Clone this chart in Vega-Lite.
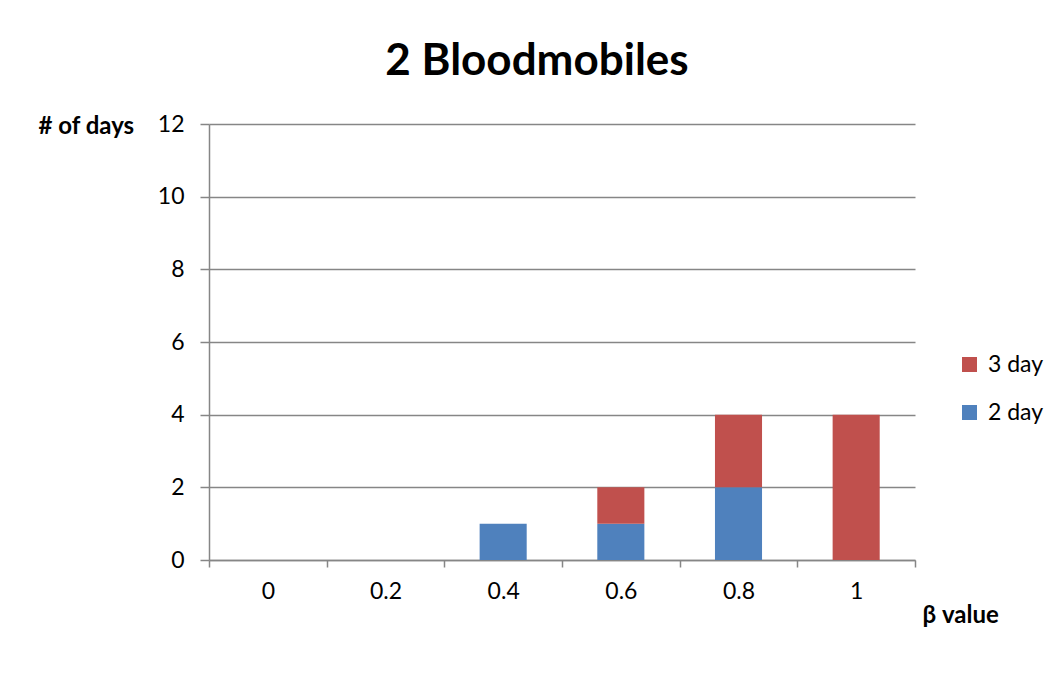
{
  "$schema": "https://vega.github.io/schema/vega-lite/v6.json",
  "width": 706,
  "height": 436,
  "autosize": "none",
  "padding": {"left": 209, "top": 124, "right": 140, "bottom": 119},
  "background": "white",
  "title": {
    "text": "2 Bloodmobiles",
    "font": "Lato",
    "fontSize": 44,
    "fontWeight": "bold",
    "color": "#000000",
    "anchor": "middle",
    "baseline": "alphabetic",
    "dx": -25,
    "offset": -6
  },
  "data": {
    "values": [
      {"beta": "0", "series": "2 day", "days": 0},
      {"beta": "0", "series": "3 day", "days": 0},
      {"beta": "0.2", "series": "2 day", "days": 0},
      {"beta": "0.2", "series": "3 day", "days": 0},
      {"beta": "0.4", "series": "2 day", "days": 1},
      {"beta": "0.4", "series": "3 day", "days": 0},
      {"beta": "0.6", "series": "2 day", "days": 1},
      {"beta": "0.6", "series": "3 day", "days": 1},
      {"beta": "0.8", "series": "2 day", "days": 2},
      {"beta": "0.8", "series": "3 day", "days": 2},
      {"beta": "1", "series": "2 day", "days": 0},
      {"beta": "1", "series": "3 day", "days": 4}
    ]
  },
  "mark": {"type": "bar", "width": {"band": 0.4}},
  "encoding": {
    "x": {
      "field": "beta",
      "type": "nominal",
      "sort": null,
      "scale": {"paddingInner": 0, "paddingOuter": 0},
      "axis": {
        "title": "β value",
        "titleFont": "Lato",
        "titleFontSize": 24,
        "titleFontWeight": "bold",
        "titleColor": "#000000",
        "titleAngle": 0,
        "titleAlign": "left",
        "titleBaseline": "middle",
        "titleAnchor": null,
        "titleX": 713,
        "titleY": 55,
        "labelAngle": 0,
        "labelFont": "Lato",
        "labelFontSize": 23,
        "labelColor": "#000000",
        "labelPadding": 13,
        "tickBand": "extent",
        "tickSize": 7,
        "tickColor": "#868686",
        "tickWidth": 1.5,
        "domainColor": "#868686",
        "domainWidth": 1.5,
        "grid": false
      }
    },
    "y": {
      "field": "days",
      "type": "quantitative",
      "stack": "zero",
      "scale": {"domain": [0, 12], "nice": false},
      "axis": {
        "title": "# of days",
        "titleFont": "Lato",
        "titleFontSize": 24,
        "titleFontWeight": "bold",
        "titleColor": "#000000",
        "titleAngle": 0,
        "titleAlign": "left",
        "titleBaseline": "middle",
        "titleAnchor": null,
        "titleX": -171,
        "titleY": 2,
        "values": [0, 2, 4, 6, 8, 10, 12],
        "labelFont": "Lato",
        "labelFontSize": 23,
        "labelColor": "#000000",
        "labelPadding": 16,
        "tickSize": 9,
        "tickColor": "#868686",
        "tickWidth": 1.5,
        "domainColor": "#868686",
        "domainWidth": 1.5,
        "grid": true,
        "gridColor": "#868686",
        "gridWidth": 1.5
      }
    },
    "color": {
      "field": "series",
      "type": "nominal",
      "scale": {"domain": ["3 day", "2 day"], "range": ["#C0504D", "#4F81BD"]},
      "legend": {
        "title": null,
        "orient": "none",
        "legendX": 749,
        "legendY": 229,
        "symbolType": "square",
        "symbolSize": 225,
        "symbolStrokeWidth": 0,
        "labelFont": "Lato",
        "labelFontSize": 23,
        "labelColor": "#000000",
        "labelOffset": 7,
        "rowPadding": 24
      }
    },
    "order": {"field": "series", "sort": "ascending"}
  },
  "config": {
    "view": {"stroke": null}
  }
}
